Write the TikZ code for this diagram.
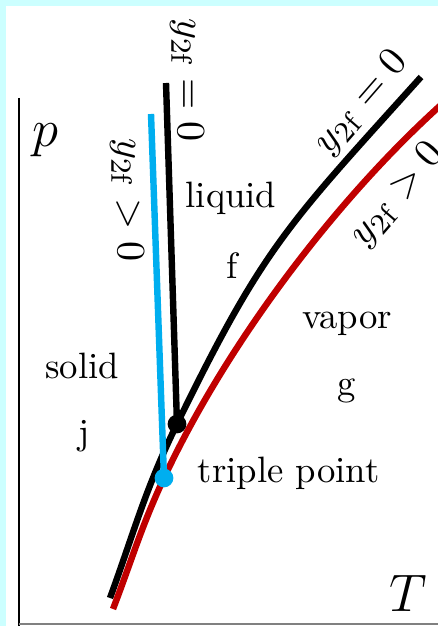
\documentclass[tikz,border=0pt]{standalone}
\usepackage{amsmath, amssymb}
\usetikzlibrary{arrows.meta, positioning}
\definecolor{bgcyan}{RGB}{204,255,255}
\definecolor{vapRed}{RGB}{192,0,0}
\definecolor{solCyan}{RGB}{0,174,239}

\begin{document}
\begin{tikzpicture}[
  x=0.2725pt, y=-0.2725pt,
  phase/.style={inner sep=0pt},
  bnd/.style={line width=1.75pt},
  ylabel/.style={inner sep=0pt, font=\fontsize{11}{13}\selectfont},
  tpdot/.style={circle, fill, inner sep=0pt, minimum size=5.1pt}
]
\useasboundingbox (0,0) rectangle (438,626);
\fill[bgcyan] (0,0) rectangle (438,626);
\fill[white] (6,6) rectangle (438,626);

% axes
\coordinate (ptop) at (19,98);
\coordinate (pbot) at (19,626);
\coordinate (Tbeg) at (19,624);
\coordinate (Tend) at (438,624);
\draw[line width=0.75pt] (ptop) -- (pbot);
\draw[gray, line width=0.4pt] (Tbeg) -- (Tend);

% triple points
\coordinate (tpB) at (177,424);
\coordinate (tpC) at (164,478);

% coexistence lines
\coordinate (b0) at (110,598);
\coordinate (b1) at (421,77);
\draw[bnd] (b0) to[out=70, in=-116] (tpB)
  to[out=64, in=-132, looseness=1.2] (b1);

\coordinate (r0) at (113,609);
\coordinate (r1) at (442,104);
\draw[bnd, vapRed] (r0) to[out=69, in=-115] (tpC)
  to[out=65, in=-138, looseness=0.8] (r1);

\coordinate (mB) at (166,83);
\coordinate (mC) at (151,114);
\draw[bnd] (mB) -- (tpB);
\draw[bnd, solCyan] (mC) -- (tpC);
\node[tpdot] (dotB) at (tpB) {};
\node[tpdot, solCyan] (dotC) at (tpC) {};

% labels
\node[font=\Large] (p) at (45,140) {$p$};
\node[font=\Large] (T) at (408,593) {$T$};
\node[phase] (liq) at (231,198) {liquid};
\node[phase] (f) at (232,266) {f};
\node[phase] (vap) at (347,324) {vapor};
\node[phase] (g) at (347,391) {g};
\node[phase] (sol) at (82,366) {solid};
\node[phase] (j) at (84,436) {j};
\node[phase, anchor=west] (tp) at (197,473) {triple point};

\node[ylabel, rotate=-90] (lB) at (187,80) {$y_{2\mathrm{f}}=0$};
\node[ylabel, rotate=-90] (lC) at (127,200) {$y_{2\mathrm{f}}>0$};
\node[ylabel, rotate=49] (lBd) at (362,103) {$y_{2\mathrm{f}}=0$};
\node[ylabel, rotate=49] (lRd) at (398,195) {$y_{2\mathrm{f}}>0$};
\end{tikzpicture}
\end{document}
